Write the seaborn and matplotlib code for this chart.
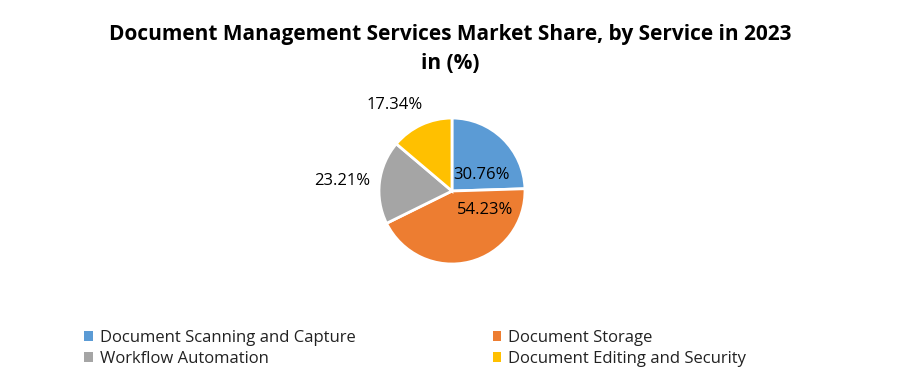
import matplotlib
matplotlib.use("Agg")
import matplotlib.pyplot as plt
from matplotlib.patches import Patch
import seaborn as sns

categories = ["Document Scanning and Capture", "Document Storage",
              "Workflow Automation", "Document Editing and Security"]
values = [30.76, 54.23, 23.21, 17.34]
labels = ["30.76%", "54.23%", "23.21%", "17.34%"]
colors = ["#5B9BD5", "#ED7D31", "#A5A5A5", "#FFC000"]

sns.set_theme(style="white")
plt.rcParams['font.family'] = ['Open Sans', 'DejaVu Sans']
plt.rcParams['text.color'] = 'black'

fig = plt.figure(figsize=(9, 3.82), dpi=100)
ax = fig.add_axes([0.4008, 0.2611, 0.2028, 0.4777])
wedges, _ = ax.pie(values, colors=colors, startangle=90, counterclock=False,
                   wedgeprops=dict(edgecolor="white", linewidth=2))
ax.set_aspect("equal")

# label positions (in pie radius units)
label_pos = [(0.41, 0.22), (0.45, -0.26), (-1.51, 0.14), (-0.79, 1.18)]
for (x, y), t in zip(label_pos, labels):
    ax.text(x, y, t, ha="center", va="center", fontsize=12, color="#000000",
            clip_on=False)

fig.text(0.5, 0.91, "Document Management Services Market Share, by Service in 2023",
         ha="center", va="center", fontsize=15, fontweight="bold", color="black")
fig.text(0.5, 0.835, "in (%)", ha="center", va="center", fontsize=15,
         fontweight="bold", color="black")

order = [0, 2, 1, 3]
handles = [Patch(facecolor=colors[i], edgecolor="none") for i in order]
leg = fig.legend(handles, [categories[i] for i in order], loc="lower left", ncol=2,
                 bbox_to_anchor=(0.077, 0.0), frameon=False, fontsize=12,
                 handlelength=0.5, handleheight=0.5, handletextpad=0.45,
                 columnspacing=8.2, labelspacing=0.3)
for t in leg.get_texts():
    t.set_color("#222222")

fig.savefig("out.png", dpi=100, facecolor="white")
